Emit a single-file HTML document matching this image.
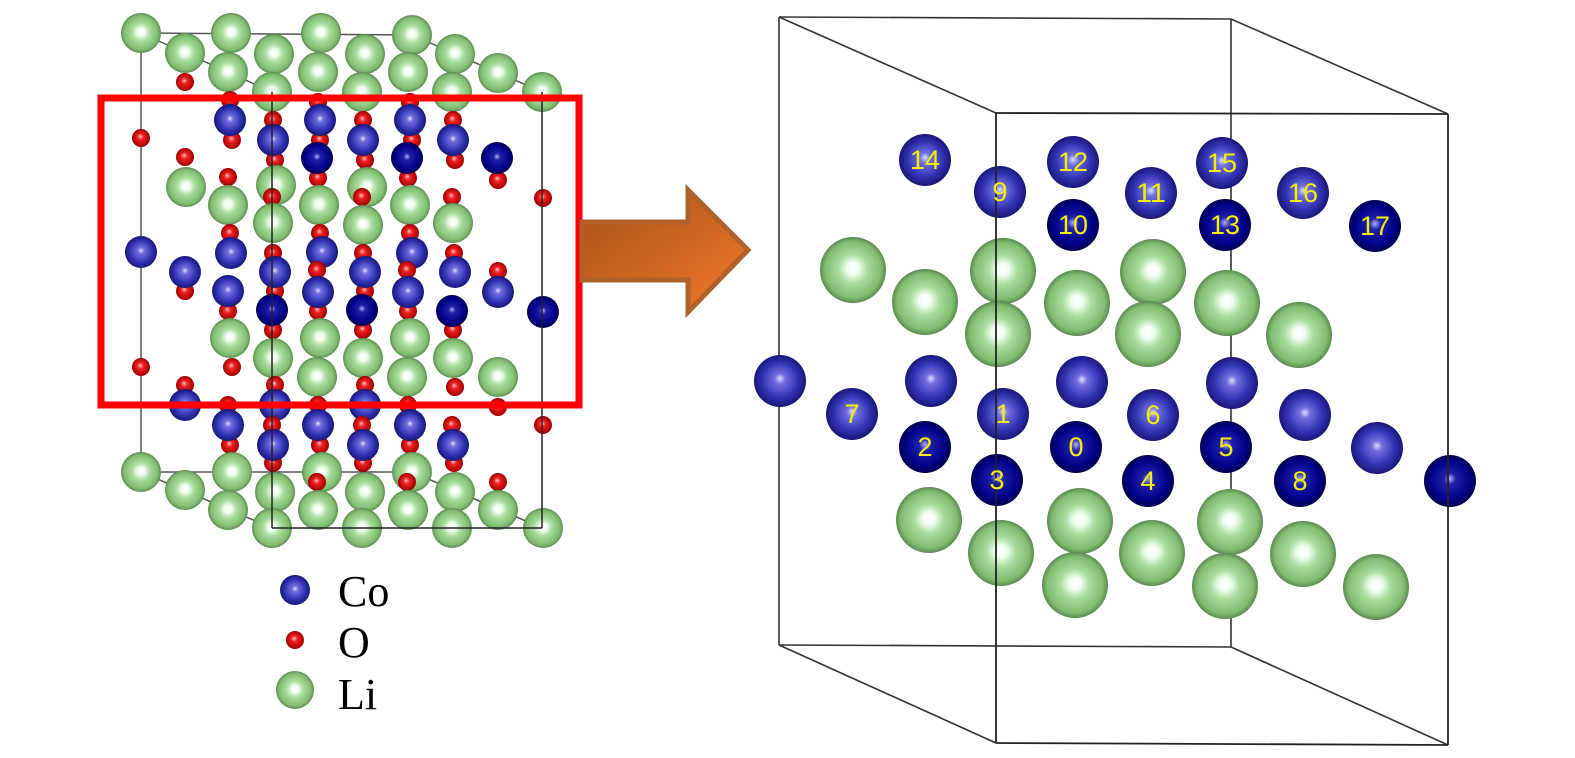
<!DOCTYPE html>
<html><head><meta charset="utf-8"><style>
html,body{margin:0;padding:0;background:#fff;}
svg{display:block;}
.lb{font-family:"Liberation Sans",sans-serif;font-size:27px;fill:#f4f000;text-anchor:middle;font-weight:normal;}
.lg{font-family:"Liberation Serif",serif;font-size:44px;fill:#000;}
</style></head><body>
<svg width="1575" height="758" viewBox="0 0 1575 758" xmlns="http://www.w3.org/2000/svg">
<defs>
<radialGradient id="co" cx="0.5" cy="0.5" r="0.5" fx="0.5" fy="0.45"><stop offset="0" stop-color="#e0e0ff"/><stop offset="0.2" stop-color="#7070e0"/><stop offset="0.7" stop-color="#3030b0"/><stop offset="1" stop-color="#181878"/></radialGradient>
<radialGradient id="cd" cx="0.5" cy="0.5" r="0.5" fx="0.5" fy="0.45"><stop offset="0" stop-color="#b0b0ff"/><stop offset="0.22" stop-color="#2020a8"/><stop offset="0.75" stop-color="#000088"/><stop offset="1" stop-color="#000050"/></radialGradient>
<radialGradient id="li" cx="0.5" cy="0.5" r="0.5" fx="0.5" fy="0.47"><stop offset="0" stop-color="#ffffff"/><stop offset="0.18" stop-color="#f0fff0"/><stop offset="0.45" stop-color="#a8dc9c"/><stop offset="0.85" stop-color="#80bc70"/><stop offset="1" stop-color="#5a8c50"/></radialGradient>
<radialGradient id="o" cx="0.5" cy="0.5" r="0.5" fx="0.45" fy="0.4"><stop offset="0" stop-color="#ffc0c0"/><stop offset="0.35" stop-color="#f02020"/><stop offset="1" stop-color="#a00000"/></radialGradient>
<linearGradient id="ar" x1="0" y1="0" x2="1" y2="1"><stop offset="0" stop-color="#a8501a"/><stop offset="1" stop-color="#f07a28"/></linearGradient>
</defs>

<g stroke="#555" stroke-width="1.5" fill="none">
<line x1="141" y1="33" x2="412" y2="35"/>
<line x1="141" y1="33" x2="141" y2="472"/>
<line x1="141" y1="472" x2="412" y2="472"/>
<line x1="141" y1="33" x2="272" y2="92"/>
<line x1="412" y1="35" x2="542" y2="92"/>
<line x1="141" y1="472" x2="272" y2="528"/>
<line x1="412" y1="472" x2="542" y2="528"/>
</g>

<g>
<circle cx="141" cy="33" r="20" fill="url(#li)"/>
<circle cx="231" cy="33" r="20" fill="url(#li)"/>
<circle cx="321" cy="33" r="20" fill="url(#li)"/>
<circle cx="412" cy="35" r="20" fill="url(#li)"/>
<circle cx="185" cy="53" r="20" fill="url(#li)"/>
<circle cx="274" cy="54" r="20" fill="url(#li)"/>
<circle cx="365" cy="54" r="20" fill="url(#li)"/>
<circle cx="455" cy="54" r="20" fill="url(#li)"/>
<circle cx="228" cy="72" r="20" fill="url(#li)"/>
<circle cx="318" cy="72" r="20" fill="url(#li)"/>
<circle cx="408" cy="72" r="20" fill="url(#li)"/>
<circle cx="498" cy="73" r="20" fill="url(#li)"/>
<circle cx="185" cy="82" r="9" fill="url(#o)"/>
<circle cx="230" cy="100" r="9" fill="url(#o)"/>
<circle cx="318" cy="102" r="9" fill="url(#o)"/>
<circle cx="410" cy="102" r="9" fill="url(#o)"/>
<circle cx="272" cy="92" r="20" fill="url(#li)"/>
<circle cx="362" cy="92" r="20" fill="url(#li)"/>
<circle cx="452" cy="92" r="20" fill="url(#li)"/>
<circle cx="542" cy="92" r="20" fill="url(#li)"/>
<circle cx="232" cy="140" r="9" fill="url(#o)"/>
<circle cx="320" cy="140" r="9" fill="url(#o)"/>
<circle cx="412" cy="140" r="9" fill="url(#o)"/>
<circle cx="230" cy="120" r="16" fill="url(#co)"/>
<circle cx="320" cy="120" r="16" fill="url(#co)"/>
<circle cx="410" cy="120" r="16" fill="url(#co)"/>
<circle cx="273" cy="120" r="9" fill="url(#o)"/>
<circle cx="363" cy="120" r="9" fill="url(#o)"/>
<circle cx="453" cy="120" r="9" fill="url(#o)"/>
<circle cx="275" cy="160" r="9" fill="url(#o)"/>
<circle cx="365" cy="160" r="9" fill="url(#o)"/>
<circle cx="455" cy="160" r="9" fill="url(#o)"/>
<circle cx="273" cy="140" r="16" fill="url(#co)"/>
<circle cx="363" cy="140" r="16" fill="url(#co)"/>
<circle cx="453" cy="140" r="16" fill="url(#co)"/>
<circle cx="141" cy="138" r="9" fill="url(#o)"/>
<circle cx="185" cy="157" r="9" fill="url(#o)"/>
<circle cx="318" cy="178" r="9" fill="url(#o)"/>
<circle cx="408" cy="178" r="9" fill="url(#o)"/>
<circle cx="498" cy="180" r="9" fill="url(#o)"/>
<circle cx="317" cy="158" r="16" fill="url(#cd)"/>
<circle cx="407" cy="158" r="16" fill="url(#cd)"/>
<circle cx="497" cy="158" r="16" fill="url(#cd)"/>
<circle cx="228" cy="177" r="9" fill="url(#o)"/>
<circle cx="186" cy="187" r="20" fill="url(#li)"/>
<circle cx="276" cy="185" r="20" fill="url(#li)"/>
<circle cx="367" cy="187" r="20" fill="url(#li)"/>
<circle cx="228" cy="205" r="20" fill="url(#li)"/>
<circle cx="319" cy="205" r="20" fill="url(#li)"/>
<circle cx="410" cy="205" r="20" fill="url(#li)"/>
<circle cx="272" cy="197" r="9" fill="url(#o)"/>
<circle cx="362" cy="197" r="9" fill="url(#o)"/>
<circle cx="452" cy="197" r="9" fill="url(#o)"/>
<circle cx="543" cy="198" r="9" fill="url(#o)"/>
<circle cx="273" cy="223" r="20" fill="url(#li)"/>
<circle cx="363" cy="225" r="20" fill="url(#li)"/>
<circle cx="453" cy="223" r="20" fill="url(#li)"/>
<circle cx="230" cy="233" r="9" fill="url(#o)"/>
<circle cx="320" cy="233" r="9" fill="url(#o)"/>
<circle cx="410" cy="233" r="9" fill="url(#o)"/>
<circle cx="141" cy="252" r="16" fill="url(#co)"/>
<circle cx="231" cy="253" r="16" fill="url(#co)"/>
<circle cx="322" cy="252" r="16" fill="url(#co)"/>
<circle cx="412" cy="253" r="16" fill="url(#co)"/>
<circle cx="273" cy="253" r="9" fill="url(#o)"/>
<circle cx="363" cy="253" r="9" fill="url(#o)"/>
<circle cx="454" cy="253" r="9" fill="url(#o)"/>
<circle cx="185" cy="291" r="9" fill="url(#o)"/>
<circle cx="275" cy="291" r="9" fill="url(#o)"/>
<circle cx="365" cy="291" r="9" fill="url(#o)"/>
<circle cx="185" cy="272" r="16" fill="url(#co)"/>
<circle cx="275" cy="272" r="16" fill="url(#co)"/>
<circle cx="365" cy="272" r="16" fill="url(#co)"/>
<circle cx="455" cy="272" r="16" fill="url(#co)"/>
<circle cx="317" cy="270" r="9" fill="url(#o)"/>
<circle cx="407" cy="270" r="9" fill="url(#o)"/>
<circle cx="498" cy="271" r="9" fill="url(#o)"/>
<circle cx="228" cy="311" r="9" fill="url(#o)"/>
<circle cx="318" cy="311" r="9" fill="url(#o)"/>
<circle cx="408" cy="311" r="9" fill="url(#o)"/>
<circle cx="228" cy="291" r="16" fill="url(#co)"/>
<circle cx="318" cy="292" r="16" fill="url(#co)"/>
<circle cx="408" cy="292" r="16" fill="url(#co)"/>
<circle cx="498" cy="292" r="16" fill="url(#co)"/>
<circle cx="273" cy="330" r="9" fill="url(#o)"/>
<circle cx="363" cy="330" r="9" fill="url(#o)"/>
<circle cx="453" cy="330" r="9" fill="url(#o)"/>
<circle cx="272" cy="310" r="16" fill="url(#cd)"/>
<circle cx="362" cy="310" r="16" fill="url(#cd)"/>
<circle cx="452" cy="311" r="16" fill="url(#cd)"/>
<circle cx="543" cy="312" r="16" fill="url(#cd)"/>
<circle cx="230" cy="338" r="20" fill="url(#li)"/>
<circle cx="320" cy="338" r="20" fill="url(#li)"/>
<circle cx="410" cy="338" r="20" fill="url(#li)"/>
<circle cx="273" cy="358" r="20" fill="url(#li)"/>
<circle cx="363" cy="358" r="20" fill="url(#li)"/>
<circle cx="453" cy="358" r="20" fill="url(#li)"/>
<circle cx="141" cy="367" r="9" fill="url(#o)"/>
<circle cx="232" cy="367" r="9" fill="url(#o)"/>
<circle cx="317" cy="377" r="20" fill="url(#li)"/>
<circle cx="407" cy="377" r="20" fill="url(#li)"/>
<circle cx="498" cy="377" r="20" fill="url(#li)"/>
<circle cx="185" cy="385" r="9" fill="url(#o)"/>
<circle cx="275" cy="385" r="9" fill="url(#o)"/>
<circle cx="365" cy="385" r="9" fill="url(#o)"/>
<circle cx="455" cy="387" r="9" fill="url(#o)"/>
<circle cx="185" cy="405" r="16" fill="url(#co)"/>
<circle cx="275" cy="405" r="16" fill="url(#co)"/>
<circle cx="365" cy="405" r="16" fill="url(#co)"/>
<circle cx="228" cy="405" r="9" fill="url(#o)"/>
<circle cx="318" cy="405" r="9" fill="url(#o)"/>
<circle cx="408" cy="405" r="9" fill="url(#o)"/>
<circle cx="498" cy="407" r="9" fill="url(#o)"/>
<circle cx="230" cy="445" r="9" fill="url(#o)"/>
<circle cx="320" cy="445" r="9" fill="url(#o)"/>
<circle cx="410" cy="445" r="9" fill="url(#o)"/>
<circle cx="228" cy="425" r="16" fill="url(#co)"/>
<circle cx="318" cy="425" r="16" fill="url(#co)"/>
<circle cx="410" cy="425" r="16" fill="url(#co)"/>
<circle cx="272" cy="425" r="9" fill="url(#o)"/>
<circle cx="362" cy="425" r="9" fill="url(#o)"/>
<circle cx="452" cy="425" r="9" fill="url(#o)"/>
<circle cx="543" cy="425" r="9" fill="url(#o)"/>
<circle cx="273" cy="463" r="9" fill="url(#o)"/>
<circle cx="363" cy="463" r="9" fill="url(#o)"/>
<circle cx="454" cy="463" r="9" fill="url(#o)"/>
<circle cx="273" cy="445" r="16" fill="url(#co)"/>
<circle cx="363" cy="445" r="16" fill="url(#co)"/>
<circle cx="453" cy="445" r="16" fill="url(#co)"/>
<circle cx="141" cy="472" r="20" fill="url(#li)"/>
<circle cx="232" cy="472" r="20" fill="url(#li)"/>
<circle cx="322" cy="472" r="20" fill="url(#li)"/>
<circle cx="412" cy="472" r="20" fill="url(#li)"/>
<circle cx="317" cy="482" r="9" fill="url(#o)"/>
<circle cx="407" cy="482" r="9" fill="url(#o)"/>
<circle cx="498" cy="482" r="9" fill="url(#o)"/>
<circle cx="185" cy="490" r="20" fill="url(#li)"/>
<circle cx="275" cy="492" r="20" fill="url(#li)"/>
<circle cx="365" cy="492" r="20" fill="url(#li)"/>
<circle cx="455" cy="492" r="20" fill="url(#li)"/>
<circle cx="228" cy="510" r="20" fill="url(#li)"/>
<circle cx="318" cy="510" r="20" fill="url(#li)"/>
<circle cx="408" cy="510" r="20" fill="url(#li)"/>
<circle cx="498" cy="510" r="20" fill="url(#li)"/>
<circle cx="272" cy="528" r="20" fill="url(#li)"/>
<circle cx="362" cy="528" r="20" fill="url(#li)"/>
<circle cx="452" cy="528" r="20" fill="url(#li)"/>
<circle cx="543" cy="528" r="20" fill="url(#li)"/>
</g>
<g stroke="#222" stroke-width="1.5">
<line x1="272" y1="92" x2="272" y2="528"/>
<line x1="542" y1="92" x2="542" y2="528"/>
<line x1="272" y1="528" x2="542" y2="528"/>
</g>
<rect x="101" y="98" width="478" height="307" fill="none" stroke="#ff0000" stroke-width="7"/>

<polygon points="582,222 688,222 688,190 748,250 688,312 688,280 582,280" fill="url(#ar)" stroke="#b0602a" stroke-width="5" stroke-linejoin="miter"/>

<circle cx="295" cy="590" r="15" fill="url(#co)"/>
<circle cx="295" cy="640" r="9" fill="url(#o)"/>
<circle cx="295" cy="690" r="19" fill="url(#li)"/>
<text class="lg" x="338" y="606">Co</text>
<text class="lg" x="338" y="657">O</text>
<text class="lg" x="338" y="709">Li</text>

<g stroke="#333" stroke-width="1.6" fill="none">
<line x1="779" y1="17" x2="1231" y2="19"/>
<line x1="779" y1="17" x2="779" y2="645"/>
<line x1="779" y1="17" x2="996" y2="113"/>
<line x1="1231" y1="19" x2="1448" y2="114"/>
<line x1="1231" y1="19" x2="1231" y2="647"/>
<line x1="779" y1="645" x2="1231" y2="647"/>
<line x1="779" y1="645" x2="996" y2="743"/>
<line x1="1231" y1="647" x2="1448" y2="745"/>
</g>
<g>
<circle cx="925" cy="160" r="26" fill="url(#co)"/>
<circle cx="1073" cy="162" r="26" fill="url(#co)"/>
<circle cx="1222" cy="163" r="26" fill="url(#co)"/>
<circle cx="1000" cy="192" r="26" fill="url(#co)"/>
<circle cx="1151" cy="193" r="26" fill="url(#co)"/>
<circle cx="1303" cy="193" r="26" fill="url(#co)"/>
<circle cx="1073" cy="225" r="26" fill="url(#cd)"/>
<circle cx="1225" cy="225" r="26" fill="url(#cd)"/>
<circle cx="1375" cy="226" r="26" fill="url(#cd)"/>
<circle cx="853" cy="270" r="33" fill="url(#li)"/>
<circle cx="1003" cy="271" r="33" fill="url(#li)"/>
<circle cx="1153" cy="272" r="33" fill="url(#li)"/>
<circle cx="925" cy="302" r="33" fill="url(#li)"/>
<circle cx="1077" cy="303" r="33" fill="url(#li)"/>
<circle cx="1227" cy="303" r="33" fill="url(#li)"/>
<circle cx="998" cy="334" r="33" fill="url(#li)"/>
<circle cx="1148" cy="334" r="33" fill="url(#li)"/>
<circle cx="1299" cy="335" r="33" fill="url(#li)"/>
<circle cx="780" cy="381" r="26" fill="url(#co)"/>
<circle cx="931" cy="381" r="26" fill="url(#co)"/>
<circle cx="1082" cy="382" r="26" fill="url(#co)"/>
<circle cx="1232" cy="383" r="26" fill="url(#co)"/>
<circle cx="852" cy="414" r="26" fill="url(#co)"/>
<circle cx="1003" cy="414" r="26" fill="url(#co)"/>
<circle cx="1153" cy="415" r="26" fill="url(#co)"/>
<circle cx="1305" cy="415" r="26" fill="url(#co)"/>
<circle cx="925" cy="447" r="26" fill="url(#cd)"/>
<circle cx="1076" cy="447" r="26" fill="url(#cd)"/>
<circle cx="1226" cy="447" r="26" fill="url(#cd)"/>
<circle cx="1377" cy="448" r="26" fill="url(#co)"/>
<circle cx="997" cy="480" r="26" fill="url(#cd)"/>
<circle cx="1148" cy="481" r="26" fill="url(#cd)"/>
<circle cx="1300" cy="481" r="26" fill="url(#cd)"/>
<circle cx="1450" cy="481" r="26" fill="url(#cd)"/>
<circle cx="929" cy="520" r="33" fill="url(#li)"/>
<circle cx="1080" cy="521" r="33" fill="url(#li)"/>
<circle cx="1230" cy="522" r="33" fill="url(#li)"/>
<circle cx="1001" cy="553" r="33" fill="url(#li)"/>
<circle cx="1152" cy="553" r="33" fill="url(#li)"/>
<circle cx="1303" cy="554" r="33" fill="url(#li)"/>
<circle cx="1075" cy="585" r="33" fill="url(#li)"/>
<circle cx="1225" cy="586" r="33" fill="url(#li)"/>
<circle cx="1376" cy="587" r="33" fill="url(#li)"/>
</g>
<g stroke="#222" stroke-width="1.8" fill="none">
<line x1="996" y1="113" x2="1448" y2="114"/>
<line x1="996" y1="113" x2="996" y2="743"/>
<line x1="1448" y1="114" x2="1448" y2="745"/>
<line x1="996" y1="743" x2="1448" y2="745"/>
</g>
<g class="lb">
<text x="925" y="169" textLength="30" lengthAdjust="spacingAndGlyphs">14</text>
<text x="1000" y="201">9</text>
<text x="1073" y="171" textLength="30" lengthAdjust="spacingAndGlyphs">12</text>
<text x="1151" y="202" textLength="30" lengthAdjust="spacingAndGlyphs">11</text>
<text x="1222" y="172" textLength="30" lengthAdjust="spacingAndGlyphs">15</text>
<text x="1303" y="202" textLength="30" lengthAdjust="spacingAndGlyphs">16</text>
<text x="1073" y="234" textLength="30" lengthAdjust="spacingAndGlyphs">10</text>
<text x="1225" y="234" textLength="30" lengthAdjust="spacingAndGlyphs">13</text>
<text x="1375" y="235" textLength="30" lengthAdjust="spacingAndGlyphs">17</text>
<text x="852" y="423">7</text>
<text x="1003" y="423">1</text>
<text x="1153" y="424">6</text>
<text x="925" y="456">2</text>
<text x="1076" y="456">0</text>
<text x="1226" y="456">5</text>
<text x="997" y="489">3</text>
<text x="1148" y="490">4</text>
<text x="1300" y="490">8</text>
</g>
</svg>
</body></html>
